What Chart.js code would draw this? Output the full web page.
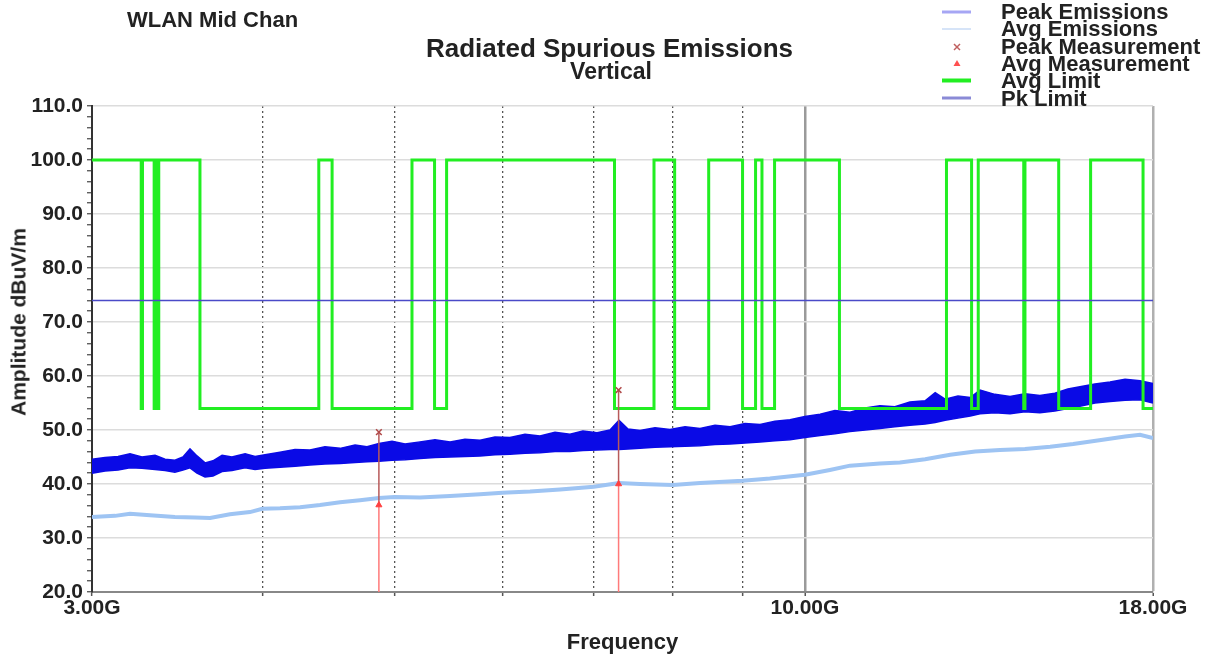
<!DOCTYPE html>
<html><head><meta charset="utf-8">
<script src="https://cdn.jsdelivr.net/npm/chart.js@4.4.1/dist/chart.umd.min.js"></script>
<style>
html,body{margin:0;padding:0;background:#fff;}
#wrap{position:relative;width:1219px;height:662px;overflow:hidden;font-family:"Liberation Sans",Arial,sans-serif;font-weight:bold;color:#222;}
canvas{position:absolute;left:0;top:0;}
.t{position:absolute;white-space:nowrap;}
.lg{position:absolute;left:1001px;font-size:22px;line-height:17.2px;white-space:nowrap;}
</style></head>
<body>
<div id="wrap">
<canvas id="c" width="1219" height="662" style="width:1219px;height:662px"></canvas>
<div class="t" style="left:127px;top:9px;font-size:22px;line-height:22px;">WLAN Mid Chan</div>
<div class="t" style="left:0;width:1219px;text-align:center;top:35px;font-size:26px;line-height:26px;">Radiated Spurious Emissions</div>
<div class="t" style="left:0;width:1222px;text-align:center;top:60px;font-size:23px;line-height:23px;">Vertical</div>
<div class="t" style="left:17.5px;top:322px;font-size:21px;line-height:21px;transform:translate(-50%,-50%) rotate(-90deg);">Amplitude dBuV/m</div>
<svg style="position:absolute;left:936px;top:0" width="40" height="110">
  <line x1="6" y1="12" x2="35" y2="12" stroke="#a6a6f4" stroke-width="3"/>
  <line x1="6" y1="29" x2="35" y2="29" stroke="#d6e4f8" stroke-width="2"/>
  <g stroke="#c06060" stroke-width="1.5"><line x1="18" y1="44" x2="24" y2="50"/><line x1="24" y1="44" x2="18" y2="50"/></g>
  <polygon points="21,60 24.5,66 17.5,66" fill="#ff5050"/>
  <line x1="6" y1="80.5" x2="35" y2="80.5" stroke="#22ee22" stroke-width="4"/>
  <line x1="6" y1="98" x2="35" y2="98" stroke="#8a8ad6" stroke-width="3"/>
</svg>
<div class="lg" style="top:3px">Peak Emissions</div>
<div class="lg" style="top:20.3px">Avg Emissions</div>
<div class="lg" style="top:37.6px">Peak Measurement</div>
<div class="lg" style="top:54.9px">Avg Measurement</div>
<div class="lg" style="top:72.2px">Avg Limit</div>
<div class="lg" style="top:89.5px">Pk Limit</div>
</div>
<script>
// ---- data (GHz / dBuV/m) ----
const xTickVals = [3, 4, 5, 6, 7, 8, 9, 10, 18];
const xLabelVals = [3, 10, 18];
const yMin = 20, yMax = 110;
const pkLimit = 74;
const avgLimitLow = 54, avgLimitHigh = 100;
const restrictedBands = [[3.26,3.267],[3.332,3.339],[3.3458,3.358],[3.6,4.4],[4.5,5.15],[5.35,5.46],[7.25,7.75],[8.025,8.5],[9.0,9.2],[9.3,9.5],[10.6,12.7],[13.25,13.4],[14.47,14.5],[15.35,16.2],[17.7,21.4]];

const peakFreqs = [3.000,3.067,3.135,3.199,3.264,3.337,3.394,3.451,3.498,3.540,3.582,3.631,3.680,3.737,3.800,3.885,3.951,4.018,4.121,4.227,4.335,4.446,4.561,4.678,4.773,4.871,4.979,5.090,5.220,5.354,5.492,5.632,5.777,5.925,6.077,6.233,6.393,6.557,6.725,6.874,7.039,7.195,7.305,7.417,7.569,7.763,7.962,8.167,8.376,8.591,8.812,9.038,9.270,9.507,9.751,10.00,10.26,10.52,10.79,11.07,11.35,11.64,11.94,12.25,12.46,12.67,12.95,13.22,13.44,13.78,14.14,14.50,14.87,15.25,15.59,15.91,16.32,16.74,17.17,17.61,18.00];
const peakHigh  = [44.6,44.9,45.1,45.6,45.0,45.3,44.6,44.4,45.0,46.5,45.2,43.9,44.3,45.3,45.0,45.6,45.1,45.4,45.9,46.4,46.3,46.9,46.6,47.2,46.9,47.5,47.9,47.4,47.8,48.2,47.8,48.3,48.1,48.7,48.6,49.2,48.9,49.6,49.2,49.8,49.5,50.0,51.8,50.2,49.9,50.4,50.1,50.6,50.3,50.9,50.6,51.2,51.0,51.6,51.9,52.5,52.9,53.6,53.3,54.1,54.5,54.3,55.2,55.4,56.9,55.7,56.3,56.0,57.4,56.6,56.2,56.7,56.4,56.8,57.6,58.0,58.5,58.9,59.4,59.1,58.6];
const peakLow   = [42.0,42.4,42.6,43.0,42.9,42.7,42.5,42.2,42.6,43.0,42.0,41.3,41.5,42.3,42.5,43.0,42.7,42.9,43.1,43.3,43.5,43.7,43.8,44.0,44.1,44.2,44.4,44.5,44.7,44.9,45.0,45.1,45.2,45.4,45.5,45.7,45.8,46.0,46.0,46.2,46.3,46.4,46.4,46.5,46.6,46.8,46.9,47.0,47.1,47.3,47.4,47.6,47.8,48.0,48.2,48.6,49.0,49.3,49.7,50.0,50.3,50.6,50.9,51.1,51.4,51.8,52.2,52.6,53.0,53.2,53.0,53.4,53.2,53.5,54.0,54.4,55.0,55.3,55.5,55.6,55.0];

const avgFreqs = [3.000,3.119,3.199,3.309,3.451,3.570,3.662,3.787,3.917,4.000,4.121,4.263,4.409,4.561,4.717,4.871,5.000,5.220,5.492,5.777,6.000,6.286,6.613,7.000,7.305,7.569,8.000,8.376,9.000,9.425,10.00,10.43,10.79,11.35,11.74,12.25,12.78,13.33,13.90,14.50,15.13,15.73,16.44,17.17,17.61,18.00];
const avgVals  = [33.9,34.1,34.5,34.2,33.9,33.8,33.7,34.4,34.8,35.4,35.5,35.7,36.1,36.6,37.0,37.4,37.6,37.5,37.8,38.1,38.4,38.6,39.0,39.5,40.2,40.0,39.8,40.2,40.6,41.0,41.7,42.6,43.4,43.8,44.0,44.6,45.4,46.0,46.3,46.5,46.9,47.4,48.1,48.8,49.1,48.5];

const measFreqs = [4.87, 7.30];
const peakMeasVals = [49.6, 57.4];
const avgMeasVals = [36.1, 40.0];

// ---- build ----
const xMin = xTickVals[0], xMax = xTickVals[xTickVals.length - 1];
const avgLimitPts = [{x: xMin, y: avgLimitHigh}];
restrictedBands.forEach(([lo, hi]) => {
  if (lo >= xMax) return;
  avgLimitPts.push({x: lo, y: avgLimitHigh}, {x: lo, y: avgLimitLow});
  if (hi >= xMax) { avgLimitPts.push({x: xMax, y: avgLimitLow}); }
  else { avgLimitPts.push({x: hi, y: avgLimitLow}, {x: hi, y: avgLimitHigh}); }
});
if (avgLimitPts[avgLimitPts.length - 1].x < xMax) avgLimitPts.push({x: xMax, y: avgLimitHigh});

const zip = (fs, vs) => fs.map((f, i) => ({x: f, y: vs[i]}));
const PEAK_BLUE = '#0a0ae6';

const measLines = [];
measFreqs.forEach((f, i) => {
  measLines.push({data: [{x: f, y: peakMeasVals[i]}, {x: f, y: avgMeasVals[i]}], borderColor: '#b85a5a', borderWidth: 1.5, pointRadius: 0, fill: false});
  measLines.push({data: [{x: f, y: avgMeasVals[i]}, {x: f, y: yMin}], borderColor: '#ff7a7a', borderWidth: 1.5, pointRadius: 0, fill: false});
});

const datasets = [
  {label: 'Peak Measurement', data: zip(measFreqs, peakMeasVals), showLine: false, pointStyle: 'crossRot', pointRadius: 4, borderColor: '#b04848', borderWidth: 1.5},
  {label: 'Avg Measurement', data: zip(measFreqs, avgMeasVals), showLine: false, pointStyle: 'triangle', pointRadius: 3.5, backgroundColor: '#ff4040', borderColor: '#ff4040', borderWidth: 1},
  ...measLines,
  {label: 'Pk Limit', data: [{x: xMin, y: pkLimit}, {x: xMax, y: pkLimit}], borderColor: '#4a4ac8', borderWidth: 1.5, pointRadius: 0, fill: false},
  {label: 'Avg Limit', data: avgLimitPts, borderColor: '#22ee22', borderWidth: 3, pointRadius: 0, fill: false},
  {label: 'Peak Emissions', data: zip(peakFreqs, peakHigh), borderColor: PEAK_BLUE, borderWidth: 1.5, pointRadius: 0, fill: '+1', backgroundColor: PEAK_BLUE},
  {label: 'Peak Emissions low', data: zip(peakFreqs, peakLow), borderColor: PEAK_BLUE, borderWidth: 1.5, pointRadius: 0, fill: false},
  {label: 'Avg Emissions', data: zip(avgFreqs, avgVals), borderColor: '#9ec4f3', borderWidth: 4, pointRadius: 0, fill: false}
];

const FONT = '"Liberation Sans", Arial, sans-serif';

new Chart(document.getElementById('c'), {
  type: 'line',
  data: {datasets},
  options: {
    responsive: false,
    animation: false,
    events: [],
    layout: {padding: {top: 106, right: 66, left: 0, bottom: 0}},
    plugins: {legend: {display: false}, tooltip: {enabled: false}, title: {display: false}},
    elements: {line: {tension: 0}},
    scales: {
      x: {
        type: 'logarithmic', min: xMin, max: xMax,
        afterBuildTicks: s => { s.ticks = xTickVals.map(v => ({value: v})); },
        afterFit: s => { s.height = 70; },
        ticks: {
          autoSkip: false, maxRotation: 0, padding: 0, color: '#222',
          font: {family: FONT, size: 21, weight: 'bold'},
          callback: v => xLabelVals.includes(v) ? v.toFixed(2) + 'G' : ''
        },
        grid: {
          color: c => { const v = c.tick && c.tick.value; if (v === 10) return '#9a9a9a'; if (v === 18) return '#b0b0b0'; if (v > 3) return '#555'; return 'rgba(0,0,0,0)'; },
          lineWidth: c => { const v = c.tick && c.tick.value; return (v === 10 || v === 18) ? 2.5 : 1.3; },
          tickColor: '#555', tickLength: 4, tickWidth: 1.5
        },
        border: {
          color: '#888', width: 2,
          dash: c => { const v = c.tick && c.tick.value; return (v > 3 && v < 10) ? [2, 3] : []; }
        },
        title: {display: true, text: 'Frequency', color: '#222', font: {family: FONT, size: 22, weight: 'bold'}, padding: {top: 0, bottom: 6}}
      },
      y: {
        type: 'linear', min: yMin, max: yMax,
        afterFit: s => { s.width = 92; },
        ticks: {
          stepSize: 2, autoSkip: false, padding: 4, color: '#222',
          font: {family: FONT, size: 21, weight: 'bold'},
          callback: v => (v % 10 === 0) ? v.toFixed(1) : ''
        },
        grid: {
          color: c => (c.tick && c.tick.value % 10 === 0) ? '#dcdcdc' : 'rgba(0,0,0,0)',
          lineWidth: 1.5, tickColor: '#444', tickLength: 5, tickWidth: 1.2
        },
        border: {color: '#333', width: 2}
      }
    }
  }
});
</script>
</body></html>
